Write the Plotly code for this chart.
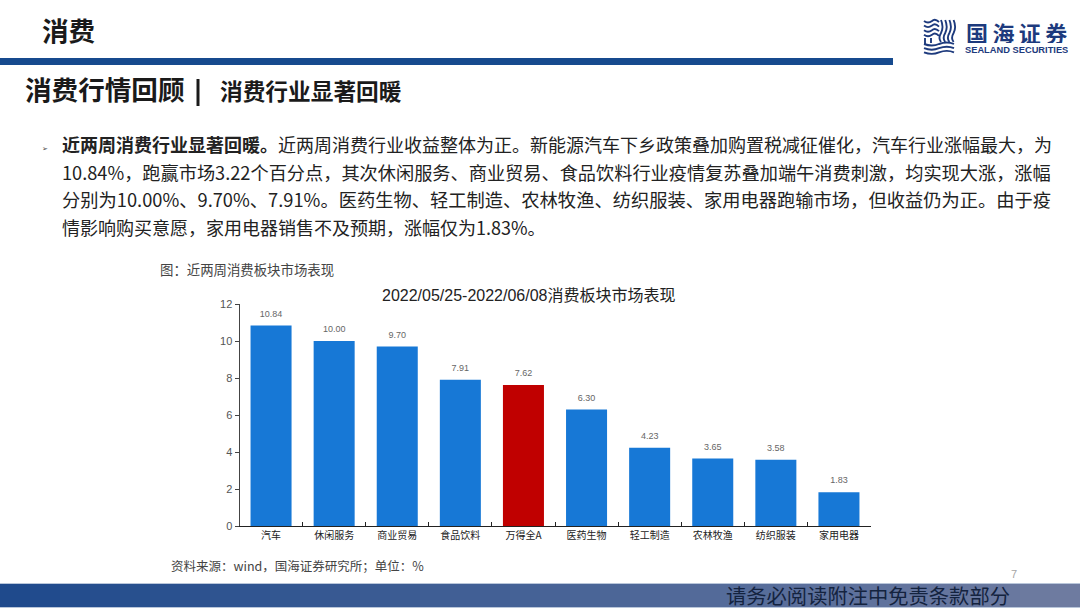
"""
Slide recreation: consumer sector market performance, 2022/05/25-2022/06/08.
"""
import plotly.graph_objects as go

W, H = 1080, 608

categories = ["汽车", "休闲服务", "商业贸易", "食品饮料", "万得全A",
              "医药生物", "轻工制造", "农林牧渔", "纺织服装", "家用电器"]
returns = [10.84, 10.00, 9.70, 7.91, 7.62, 6.30, 4.23, 3.65, 3.58, 1.83]
return_labels = ["10.84", "10.00", "9.70", "7.91", "7.62", "6.30", "4.23", "3.65", "3.58", "1.83"]
highlight = "万得全A"
y_ticks = [0, 2, 4, 6, 8, 10, 12]

# full-width punctuation is written as escapes so it survives editors
body_lines = [
    "<b>近两周消费行业显著回暖。</b>近两周消费行业收益整体为正。新能源汽车下乡政策叠加购置税减征催化\uff0c汽车行业涨幅最大\uff0c为",
    "10.84%\uff0c跑赢市场3.22个百分点\uff0c其次休闲服务、商业贸易、食品饮料行业疫情复苏叠加端午消费刺激\uff0c均实现大涨\uff0c涨幅",
    "分别为10.00%、9.70%、7.91%。医药生物、轻工制造、农林牧渔、纺织服装、家用电器跑输市场\uff0c但收益仍为正。由于疫",
    "情影响购买意愿\uff0c家用电器销售不及预期\uff0c涨幅仅为1.83%。",
]
caption = "图\uff1a近两周消费板块市场表现"
source_note = "资料来源\uff1awind\uff0c国海证券研究所\uff1b单位\uff1a%"

CJK = "Noto Sans CJK SC, Liberation Sans, sans-serif"
LATIN = "Liberation Sans, Noto Sans CJK SC, sans-serif"
BLUE = "#1778d6"
RED = "#c00000"
NAVY = "#164a8e"
LOGO = "#1d3a7d"


def px(x):
    return x / W


def py(y):
    return 1 - y / H


def add_text(fig, x, y, text, size, color="#1a1a1a", family=CJK, anchor="left", box_height=None):
    fig.add_annotation(
        x=px(x), y=py(y), xref="paper", yref="paper", text=text, showarrow=False,
        xanchor=anchor, yanchor="middle", align=anchor, height=box_height,
        borderpad=0, borderwidth=0,
        font=dict(size=size, color=color, family=family),
    )


def add_rect(fig, x0, y0, x1, y1, color):
    fig.add_shape(
        type="rect", xref="paper", yref="paper", layer="below",
        x0=px(x0), x1=px(x1), y0=py(y0), y1=py(y1),
        fillcolor=color, line_width=0,
    )


def add_wave(fig, points):
    # points: start, then (control, end) pairs in slide pixels
    path = f"M {px(points[0][0])} {py(points[0][1])}"
    for (cx, cy), (ex, ey) in zip(points[1::2], points[2::2]):
        path += f" Q {px(cx)} {py(cy)} {px(ex)} {py(ey)}"
    fig.add_shape(type="path", xref="paper", yref="paper", path=path,
                  line=dict(color=LOGO, width=1.9))


fig = go.Figure()

bar_colors = [RED if c == highlight else BLUE for c in categories]
fig.add_trace(go.Bar(
    x=categories,
    y=returns,
    marker=dict(color=bar_colors, line_width=0),
    showlegend=False,
))
# Value labels sit on an invisible marker, which gives the gap above each bar
fig.add_trace(go.Scatter(
    x=categories,
    y=returns,
    text=return_labels,
    mode="markers+text",
    textposition="top center",
    cliponaxis=False,
    textfont=dict(size=9, color="#666666", family=LATIN),
    marker=dict(size=9, opacity=0),
    showlegend=False,
))

fig.update_layout(
    width=W, height=H,
    margin=dict(l=0, r=0, t=0, b=0),
    paper_bgcolor="white",
    plot_bgcolor="white",
    bargap=0.35,
    xaxis=dict(
        domain=[px(239.5), px(870.5)],
        range=[-0.5, len(categories) - 0.5],
        automargin=False,
        showgrid=False, zeroline=False,
        showline=True, linecolor="#222222", linewidth=1,
        ticks="inside", ticklen=4, tickcolor="#222222",
        tickson="boundaries",
        tickfont=dict(size=10, color="#222222", family=CJK),
        tickangle=0,
    ),
    yaxis=dict(
        domain=[py(526), py(304)],
        automargin=False,
        range=[0, 12], tickvals=y_ticks,
        showgrid=False, zeroline=False,
        showline=True, linecolor="#444444", linewidth=1,
        ticks="outside", ticklen=4, tickcolor="#444444",
        tickfont=dict(size=11, color="#555555", family=LATIN),
    ),
)

# --- Slide furniture ---
add_rect(fig, 0, 58, 893, 65, NAVY)

add_text(fig, 42, 29.5, "<b>消费</b>", 26.6)
add_text(fig, 25, 89, "<b>消费行情回顾</b>", 26.6)
add_rect(fig, 196.5, 79, 199.5, 106, "#1a1a1a")
add_text(fig, 220, 90, "<b>消费行业显著回暖</b>", 22.7)

# Logo
add_text(fig, 966, 32, "<b>国\u2009海\u2009证\u2009券</b>", 22, color=LOGO, box_height=22)
add_text(fig, 965, 49.5, "<b>SEALAND SECURITIES</b>", 9.3, color=LOGO, family=LATIN, box_height=9)
for i in range(4):
    y = 21 + i * 4.6
    add_wave(fig, [(924, y), (928, y + 3), (932, y), (935, y - 3), (939, y + 1)])
for i in range(4):
    x = 941 + i * 4.2
    add_wave(fig, [(x, 20), (x + 3, 27), (x, 33), (x - 3, 38), (x, 42)])
for i in range(3):
    y = 44 + i * 4.2
    add_wave(fig, [(924, y), (932, y + 3), (939, y), (947, y - 3), (954, y)])
add_wave(fig, [(925, 38), (925, 42), (925, 44)])
add_wave(fig, [(931, 38), (931, 41), (931, 43)])

# Body text; the source slide justifies its lines, so sizes differ slightly
add_text(fig, 42, 148, "➢", 7, color="#444444")
for line, y, size in zip(body_lines, [144, 172, 199, 227], [18, 18.2, 18.27, 18]):
    add_text(fig, 62, y, line, size, color="#222222")

add_text(fig, 160, 269, caption, 13.4, color="#444444")
add_text(fig, 382, 295, "2022/05/25-2022/06/08消费板块市场表现", 16, color="#222222", family=LATIN)
add_text(fig, 171, 565, source_note, 12.5, color="#444444")
add_text(fig, 1014, 574, "7", 11, color="#a6a6a6", family=LATIN, anchor="center")

# Footer band, stepped to follow the reference's left-to-right fade
add_rect(fig, 0, 583, W, 584, "#b9c6da")
add_rect(fig, 0, 607, W, 608, "#b9c6da")
steps = 36
for i in range(steps):
    t = i / (steps - 1)
    r = round(0x1f + (0x6e - 0x1f) * t)
    g = round(0x4a + (0x7b - 0x4a) * t)
    b = round(0x8c + (0xa0 - 0x8c) * t)
    add_rect(fig, W * i / steps, 584, W * (i + 1) / steps + 1, 607, f"rgb({r},{g},{b})")
add_text(fig, 726, 595, "请务必阅读附注中免责条款部分", 20.3, color="#14233f")

# Drop the page's default body margin so the slide sits flush in the window
fig.write_html("out.html", config={"displayModeBar": False},
               post_script="document.body.style.margin='0';")
